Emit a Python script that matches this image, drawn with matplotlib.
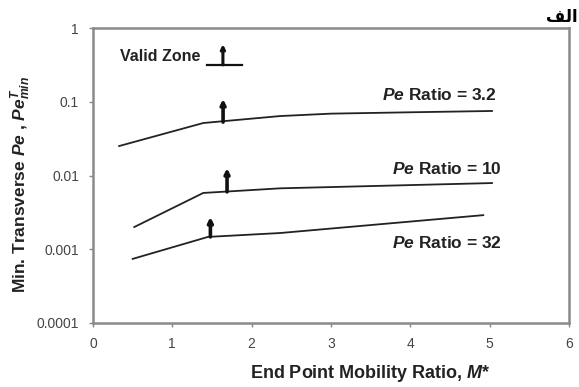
import numpy as np
import matplotlib.pyplot as plt

plt.rcParams['font.family'] = ['Liberation Sans', 'DejaVu Sans']
plt.rcParams['mathtext.fontset'] = 'custom'
plt.rcParams['mathtext.rm'] = 'Liberation Sans:bold'
plt.rcParams['mathtext.it'] = 'Liberation Sans:italic:bold'
plt.rcParams['mathtext.bf'] = 'Liberation Sans:bold'

# curves: end point mobility ratio vs min. transverse Pe
m_32 = [0.33, 1.39, 2.36, 3.0, 4.0, 5.03]
pe_32 = [0.0251, 0.0515, 0.064, 0.069, 0.072, 0.075]

m_10 = [0.52, 1.39, 2.36, 5.03]
pe_10 = [0.0020, 0.0058, 0.0067, 0.0079]

m_320 = [0.50, 1.45, 2.36, 4.92]
pe_320 = [0.00074, 0.00147, 0.00166, 0.0029]

# valid zone arrows (x, bottom, top)
arrow_x = [1.64, 1.69, 1.48]
arrow_lo = [0.053, 0.0060, 0.00147]
arrow_hi = [0.109, 0.0126, 0.00274]

labels = [r'$\mathit{Pe}$ Ratio = 3.2', r'$\mathit{Pe}$ Ratio = 10', r'$\mathit{Pe}$ Ratio = 32']
label_x = [5.09, 5.16, 5.16]
label_y = [0.124, 0.0122, 0.00122]

xticks = [0, 1, 2, 3, 4, 5, 6]
yticks = [0.0001, 0.001, 0.01, 0.1, 1]
yticklabels = ['0.0001', '0.001', '0.01', '0.1', '1']

fig = plt.figure(figsize=(5.79, 3.87), dpi=100)
ax = fig.add_axes([0.1606, 0.1654, 0.822, 0.7622])

for mx, py in [(m_32, pe_32), (m_10, pe_10), (m_320, pe_320)]:
    ax.plot(mx, py, color='#222222', lw=1.3)

for xa, lo, hi in zip(arrow_x, arrow_lo, arrow_hi):
    ax.annotate('', xy=(xa, hi), xytext=(xa, lo),
                arrowprops=dict(arrowstyle='-|>', lw=2.6, color='#111111',
                                mutation_scale=7, shrinkA=0, shrinkB=0))

for t, lx, ly in zip(labels, label_x, label_y):
    ax.text(lx, ly, t, ha='right', va='center', fontsize=12.5, fontweight='bold', color='#222222')

# valid zone key
ax.text(0.057, 0.902, 'Valid Zone', transform=ax.transAxes, fontsize=11.5,
        fontweight='bold', color='#222222', ha='left', va='center')
ax.plot([0.240, 0.313], [0.875, 0.875], transform=ax.transAxes, color='#111111', lw=1.6)
ax.annotate('', xy=(0.273, 0.945), xytext=(0.273, 0.875), xycoords='axes fraction',
            arrowprops=dict(arrowstyle='-|>', lw=2.2, color='#111111',
                            mutation_scale=6, shrinkA=0, shrinkB=0))

ax.set_yscale('log')
ax.set_xlim(0, 6)
ax.set_ylim(0.0001, 1)
ax.set_xticks(xticks)
ax.set_yticks(yticks)
ax.set_yticklabels(yticklabels)
ax.minorticks_off()
ax.tick_params(labelsize=10, length=3, width=1, color='#888888', labelcolor='#444444', pad=7)

for s in ax.spines.values():
    s.set_color('#8a8a8a')
    s.set_linewidth(1.8)

ax.set_xlabel(r'End Point Mobility Ratio, $\mathit{M}$*', fontsize=13, fontweight='bold',
              color='#222222')
ax.xaxis.set_label_coords(0.584, -0.135)
ax.set_ylabel(r'Min. Transverse $\mathit{Pe}$ , $\mathit{Pe}^{T}_{min}$', fontsize=12.5,
              fontweight='bold', color='#222222')
ax.yaxis.set_label_coords(-0.125, 0.47)

# Arabic caption, shaped glyphs in visual order
fig.text(0.998, 0.957, '\ufed2\ufedf\ufe8d', ha='right', va='center', fontsize=12,
         fontweight='bold', family=['DejaVu Sans'])

plt.savefig('out.png', dpi=100)
